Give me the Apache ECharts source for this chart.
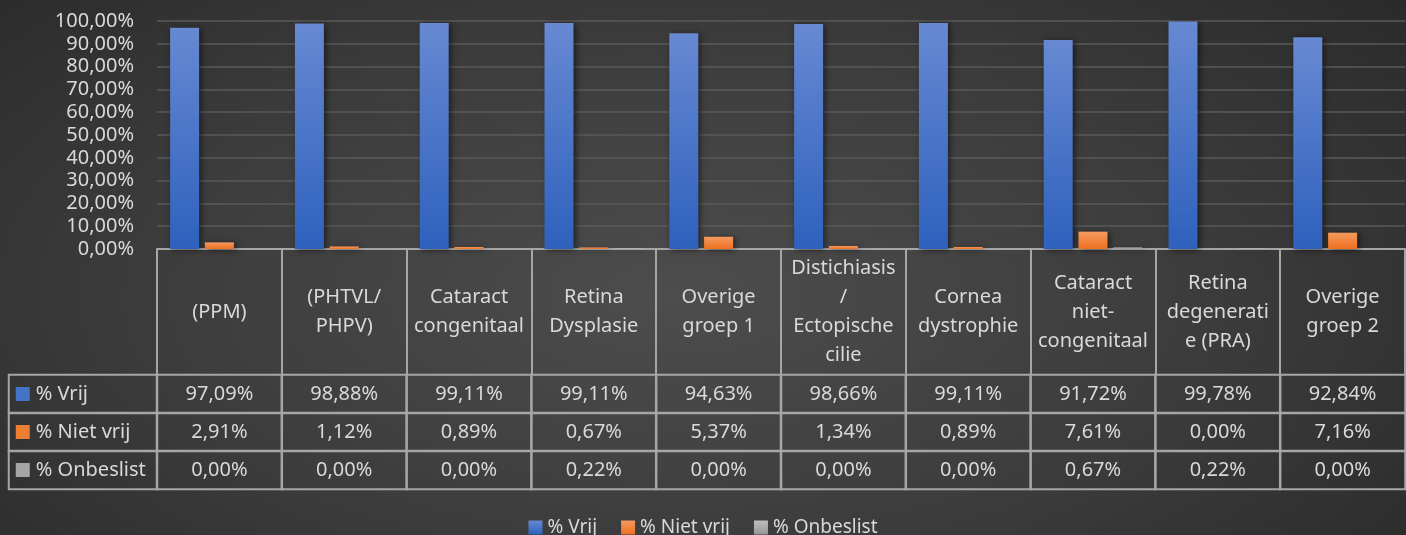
<!DOCTYPE html>
<html>
<head>
<meta charset="utf-8">
<script src="https://cdn.jsdelivr.net/npm/echarts@6/dist/echarts.min.js"></script>
<style>
html,body{margin:0;padding:0;}
#c{width:1406px;height:535px;background:radial-gradient(ellipse 75% 95% at 48% 55%, #4d4d4d 0%, #3c3c3c 50%, #262626 100%);}
</style>
</head>
<body>
<div id="c"></div>
<script>
var categories = ["(PPM)", "(PHTVL/\nPHPV)", "Cataract\ncongenitaal", "Retina\nDysplasie", "Overige\ngroep 1", "Distichiasis\n/\nEctopische\ncilie", "Cornea\ndystrophie", "Cataract\nniet-\ncongenitaal", "Retina\ndegenerati\ne (PRA)", "Overige\ngroep 2"];
var seriesNames = ["% Vrij", "% Niet vrij", "% Onbeslist"];
var vrij = [97.09, 98.88, 99.11, 99.11, 94.63, 98.66, 99.11, 91.72, 99.78, 92.84];
var nietVrij = [2.91, 1.12, 0.89, 0.67, 5.37, 1.34, 0.89, 7.61, 0.00, 7.16];
var onbeslist = [0.00, 0.00, 0.00, 0.22, 0.00, 0.00, 0.00, 0.67, 0.22, 0.00];

var values = [vrij, nietVrij, onbeslist];
var FONT = "'Noto Sans', sans-serif";
var TXT = '#d9d9d9';
var LINE = '#a6a6a6';
var solid = ['#4472c4', '#ed7d31', '#a5a5a5'];
var grads = [
  ['#6789d2', '#2e61bd'],
  ['#f59a5f', '#ee7020'],
  ['#c0c0c0', '#959595']
];
function fmt(v){ return v.toFixed(2).replace('.', ',') + '%'; }

var chart = echarts.init(document.getElementById('c'), null, {renderer:'canvas'});

var cellData = [];
values.forEach(function(arr, r){ arr.forEach(function(v, c){ cellData.push([c, r, v]); }); });
var headData = seriesNames.map(function(n, r){ return [0, r, r]; });

var rich = {t:{color:TXT, fontSize:20, fontFamily:FONT, padding:[0,0,0,6]}};
solid.forEach(function(c, i){ rich['s'+i] = {width:14, height:14, backgroundColor:c}; });

var barSeries = seriesNames.map(function(name, i){
  return {
    name: name, type:'bar', xAxisIndex:0, yAxisIndex:0,
    data: values[i],
    barGap:'20%', barCategoryGap:'21%',
    itemStyle:{
      color: new echarts.graphic.LinearGradient(0,0,0,1,[{offset:0,color:grads[i][0]},{offset:1,color:grads[i][1]}]),
      shadowColor:'rgba(0,0,0,0.55)', shadowBlur:6, shadowOffsetX:2, shadowOffsetY:1
    },
    emphasis:{disabled:true}
  };
});

chart.setOption({
  animation:false,
  textStyle:{fontFamily:FONT},
  legend:{
    data: seriesNames, top:513, left:'center', icon:'rect', itemWidth:14, itemHeight:14, itemGap:24,
    textStyle:{color:TXT, fontSize:19, fontFamily:FONT}
  },
  grid:[
    {left:157, right:1, top:21, height:228},
    {left:157, right:1, top:375, height:114},
    {left:9, width:148, top:375, height:114}
  ],
  xAxis:[
    {type:'category', gridIndex:0, data:categories,
     axisLine:{show:true, lineStyle:{color:LINE, width:2}},
     axisTick:{show:true, length:126, inside:false, lineStyle:{color:LINE, width:2}},
     axisLabel:{interval:0, margin:63, verticalAlign:'middle', lineHeight:29, color:TXT, fontSize:20, fontFamily:FONT}
    },
    {type:'category', gridIndex:1, data:categories, show:false},
    {type:'category', gridIndex:2, data:[''], show:false}
  ],
  yAxis:[
    {type:'value', gridIndex:0, min:0, max:100, interval:10,
     axisLine:{show:false}, axisTick:{show:false},
     splitLine:{lineStyle:{color:'#5a5a5a', width:1.5}},
     axisLabel:{margin:23, color:TXT, fontSize:20, fontFamily:FONT, formatter:function(v){return fmt(v);}}
    },
    {type:'category', gridIndex:1, data:seriesNames, inverse:true, show:false},
    {type:'category', gridIndex:2, data:seriesNames, inverse:true, show:false}
  ],
  series: barSeries.concat([
    {type:'heatmap', xAxisIndex:1, yAxisIndex:1, data:cellData, silent:true,
     itemStyle:{color:'rgba(0,0,0,0)', borderColor:LINE, borderWidth:2},
     label:{show:true, color:TXT, fontSize:20, fontFamily:FONT, formatter:function(p){return fmt(p.value[2]);}},
     emphasis:{disabled:true}
    },
    {type:'heatmap', xAxisIndex:2, yAxisIndex:2, data:headData, silent:true,
     itemStyle:{color:'rgba(0,0,0,0)', borderColor:LINE, borderWidth:2},
     label:{show:true, position:'insideLeft', distance:8, rich:rich,
       formatter:function(p){var r=p.value[2]; return '{s'+r+'|}{t|'+seriesNames[r]+'}';}},
     emphasis:{disabled:true}
    }
  ])
});
</script>
</body>
</html>
